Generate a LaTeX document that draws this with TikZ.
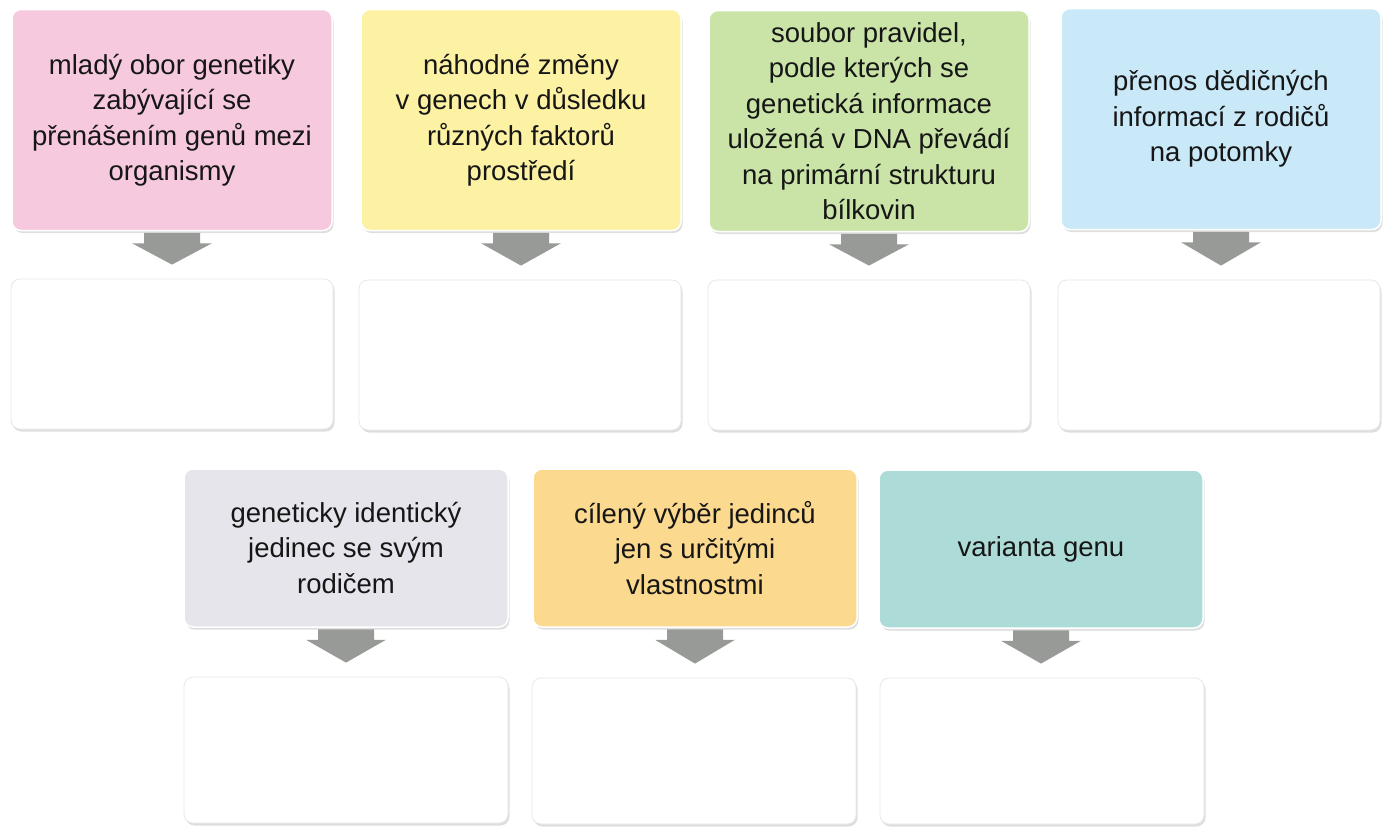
\documentclass[tikz,border=0pt]{standalone}
\usepackage{fontspec}
\setmainfont{Liberation Sans}
\usetikzlibrary{calc,shadows}
\definecolor{cpink}{HTML}{F6C9DF}
\definecolor{cyellow}{HTML}{FDF2A3}
\definecolor{cgreen}{HTML}{C9E4A6}
\definecolor{cblue}{HTML}{C9E9F8}
\definecolor{cgrey}{HTML}{E5E5EB}
\definecolor{corange}{HTML}{FBD98E}
\definecolor{cteal}{HTML}{ADDCD8}
\definecolor{carrow}{HTML}{989A97}
\definecolor{ctext}{HTML}{161616}
\newcommand\blockarrow[2]{%
  \path ($(#2.north)+(0,-14)$) coordinate (tip#1);
  \fill[arrowc] ($(#1.south)+(-28,1.5)$) -- ($(#1.south)+(28,1.5)$) -- ($(#1.south)+(28,12)$)
    -- ($(#1.south)+(40,12)$) -- (#1.south |- tip#1) -- ($(#1.south)+(-40,12)$)
    -- ($(#1.south)+(-28,12)$) -- cycle;}
\begin{document}
\begin{tikzpicture}[x=1pt,y=-1pt,
  boxbase/.style={rounded corners=9pt, inner sep=0pt, align=center, text=ctext,
    font=\fontsize{27.5}{35.5}\selectfont,
    drop shadow={shadow xshift=1.5pt, shadow yshift=-2.5pt, fill=black, opacity=0.13}},
  cbox/.style={boxbase, draw=white, line width=1.5pt, minimum width=320pt, minimum height=221pt},
  cboxlow/.style={boxbase, draw=white, line width=1.5pt, minimum width=324pt, minimum height=158pt},
  ebox/.style={boxbase, fill=white, draw=black!9, line width=0.8pt, minimum width=322pt, minimum height=150pt},
  eboxlow/.style={boxbase, fill=white, draw=black!9, line width=0.8pt, minimum width=324pt, minimum height=146pt},
  arrowc/.style={fill=carrow}]
\fill[white] (0,0) rectangle (1393,830);
\useasboundingbox (0,0) rectangle (1393,830);

\node[cbox, fill=cpink] (b1) at (172,120) {mladý obor genetiky\\zabývající se\\přenášením genů mezi\\organismy};
\node[cbox, fill=cyellow] (b2) at (521,120) {náhodné změny\\v genech v důsledku\\různých faktorů\\prostředí};
\node[cbox, fill=cgreen] (b3) at (869,121) {soubor pravidel,\\podle kterých se\\genetická informace\\uložená v DNA převádí\\na primární strukturu\\bílkovin};
\node[cbox, fill=cblue] (b4) at (1221,119) {přenos dědičných\\informací z rodičů\\na potomky};

\node[ebox] (e1) at (172,354) {};
\node[ebox] (e2) at (520,355) {};
\node[ebox] (e3) at (869,355) {};
\node[ebox] (e4) at (1219,355) {};

\node[cboxlow, fill=cgrey] (b5) at (346,548) {geneticky identický\\jedinec se svým\\rodičem};
\node[cboxlow, fill=corange] (b6) at (695,548) {cílený výběr jedinců\\jen s určitými\\vlastnostmi};
\node[cboxlow, fill=cteal] (b7) at (1041,549) {varianta genu};

\node[eboxlow] (e5) at (346,750) {};
\node[eboxlow] (e6) at (694,751) {};
\node[eboxlow] (e7) at (1042,751) {};

\blockarrow{b1}{e1}
\blockarrow{b2}{e2}
\blockarrow{b3}{e3}
\blockarrow{b4}{e4}
\blockarrow{b5}{e5}
\blockarrow{b6}{e6}
\blockarrow{b7}{e7}
\end{tikzpicture}
\end{document}
